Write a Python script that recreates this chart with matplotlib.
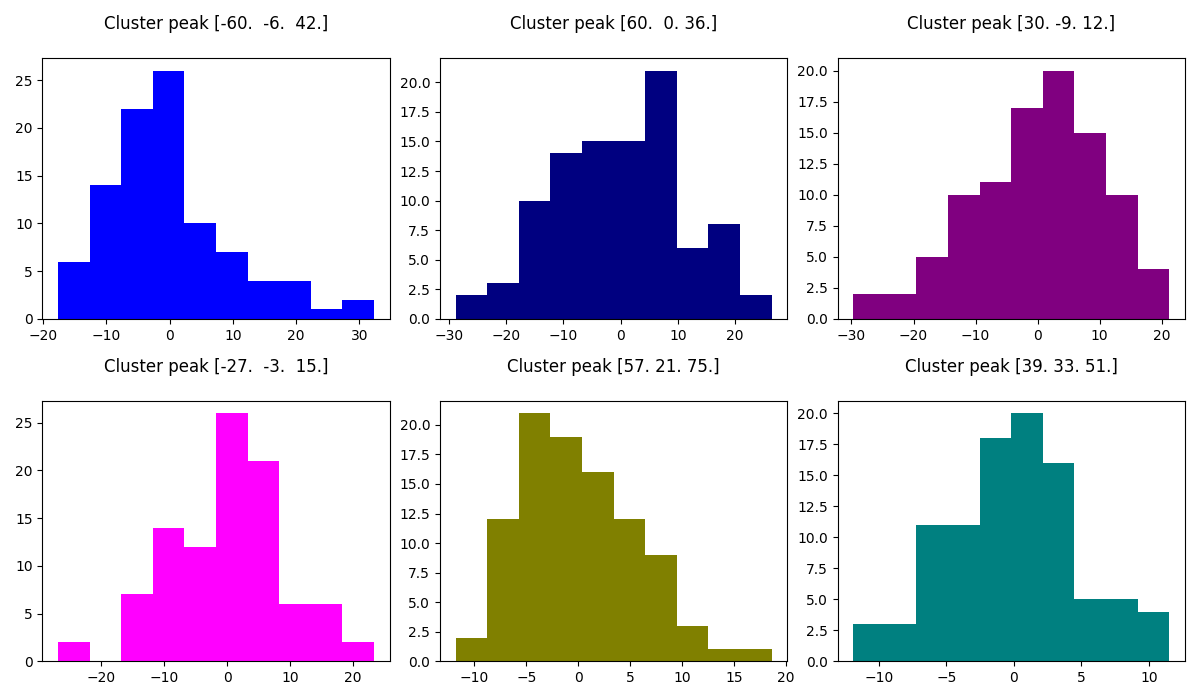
import matplotlib
matplotlib.use("Agg")
import matplotlib.pyplot as plt
import numpy as np

# cluster peak coordinates shown in the titles
peaks = [[-60., -6., 42.], [60., 0., 36.], [30., -9., 12.],
         [-27., -3., 15.], [57., 21., 75.], [39., 33., 51.]]
colors = ["blue", "navy", "purple", "magenta", "olive", "teal"]

# histogram counts per cluster (10 bins each)
counts_1 = [6, 14, 22, 26, 10, 7, 4, 4, 1, 2]
counts_2 = [2, 3, 10, 14, 15, 15, 21, 6, 8, 2]
counts_3 = [2, 2, 5, 10, 11, 17, 20, 15, 10, 4]
counts_4 = [2, 0, 7, 14, 12, 26, 21, 6, 6, 2]
counts_5 = [2, 12, 21, 19, 16, 12, 9, 3, 1, 1]
counts_6 = [3, 3, 11, 11, 18, 20, 16, 5, 5, 4]

# data range (min, max) of each histogram
ranges = [(-17.6, 32.3), (-28.8, 26.4), (-29.7, 21.2),
          (-26.9, 23.4), (-11.8, 18.6), (-11.9, 11.5)]

all_counts = [counts_1, counts_2, counts_3, counts_4, counts_5, counts_6]

fig, axes = plt.subplots(2, 3, figsize=(12, 7), dpi=100)
for ax, peak, c, counts, (lo, hi) in zip(axes.flat, peaks, colors, all_counts, ranges):
    edges = np.linspace(lo, hi, len(counts) + 1)
    centers = (edges[:-1] + edges[1:]) / 2
    ax.hist(centers, bins=edges, weights=counts, color=c)
    ax.set_title("Cluster peak " + str(np.array(peak)), pad=21)

plt.tight_layout()
plt.savefig("out.png")
